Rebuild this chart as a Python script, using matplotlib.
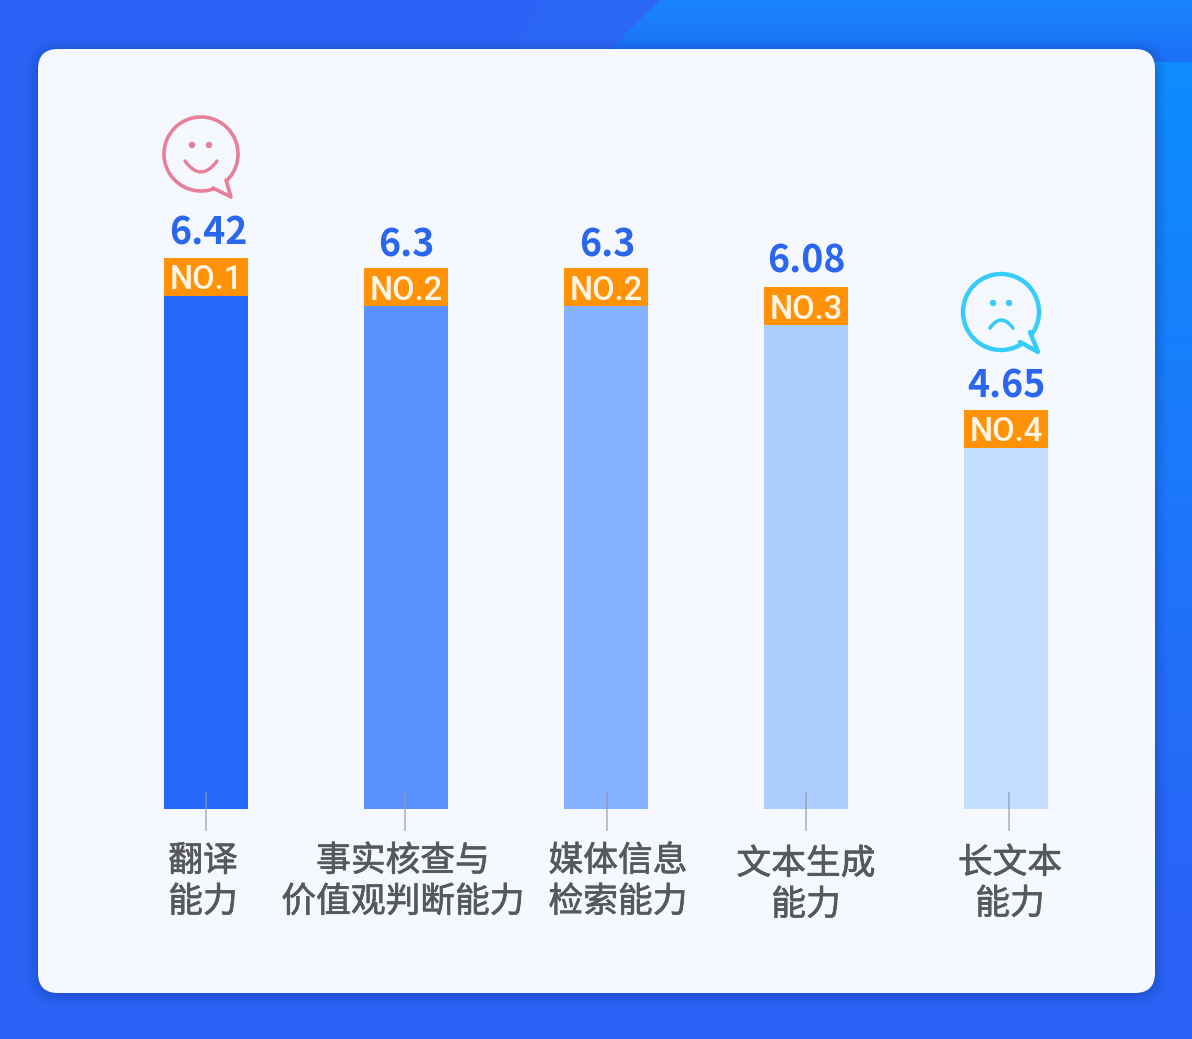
import numpy as np
import matplotlib
matplotlib.use("Agg")
import matplotlib.pyplot as plt
import matplotlib.patheffects as pe
from matplotlib.patches import FancyBboxPatch, Polygon, Circle, PathPatch
from matplotlib.path import Path

plt.rcParams['font.family'] = ['Noto Sans CJK SC', 'DejaVu Sans']

# 数据
categories = ['翻译\n能力', '事实核查与\n价值观判断能力', '媒体信息\n检索能力', '文本生成\n能力', '长文本\n能力']
values = [6.42, 6.3, 6.3, 6.08, 4.65]
ranks = ['NO.1', 'NO.2', 'NO.2', 'NO.3', 'NO.4']
bar_colors = ['#2666f8', '#5b90ff', '#86b3ff', '#aecdff', '#c3deff']

W, H = 1192, 1039
PX_PER_UNIT = 85.85
BASE_Y = 809
FIRST_X, STEP_X = 206, 200
BADGE_H = 38 / PX_PER_UNIT

# 标签位置（像素）
label_x = [203, 403, 618, 806, 1010]
label_y = [882, 882, 882, 885, 884]
tick_x = [206, 405, 607, 806, 1009]
value_dx = [2, 0, 1, 0, 0]
value_dy = [29, 27, 27, 30, 28]

px_pt = 72 / 100


def px_axes(fig, zorder):
    a = fig.add_axes([0, 0, 1, 1], zorder=zorder)
    a.set_xlim(0, W)
    a.set_ylim(H, 0)
    a.axis('off')
    a.patch.set_alpha(0)
    return a


def bubble(a, cx, cy, r, j1, j2, tip, color, lw):
    # 气泡外框：圆弧加小尾巴
    a1 = np.arctan2(j1[1] - cy, j1[0] - cx)
    a2 = np.arctan2(j2[1] - cy, j2[0] - cx)
    t = np.linspace(a1, a2 - 2 * np.pi, 120)
    pts = np.column_stack([cx + r * np.cos(t), cy + r * np.sin(t)])
    pts = np.vstack([pts, j2, tip, j1])
    a.add_patch(Polygon(pts, closed=True, fill=False, edgecolor=color, lw=lw, joinstyle='round'))


def face(a, eyes, mouth, color, lw):
    for ex, ey in eyes:
        a.add_patch(Circle((ex, ey), 3.2, color=color, lw=0))
    p = Path([mouth[0], mouth[1], mouth[2]], [Path.MOVETO, Path.CURVE3, Path.CURVE3])
    a.add_patch(PathPatch(p, fill=False, edgecolor=color, lw=lw, capstyle='round'))


def vgrad(c1, c2):
    g = np.linspace(0, 1, 64).reshape(-1, 1, 1)
    a = np.array(matplotlib.colors.to_rgb(c1)).reshape(1, 1, 3)
    b = np.array(matplotlib.colors.to_rgb(c2)).reshape(1, 1, 3)
    return a * (1 - g) + b * g


fig = plt.figure(figsize=(W / 100, H / 100), dpi=100)

# 背景
bg = px_axes(fig, 0)
bg.add_patch(Polygon([[0, 0], [W, 0], [W, H], [0, H]], color='#2a63f6', lw=0))
bg.add_patch(Polygon([[515, 49], [545, 0], [660, 0], [610, 49]], color='#2c66f4', lw=0))
im = bg.imshow(vgrad('#1a84fd', '#1b6ff5'), extent=(560, W, 62, 0), aspect='auto', zorder=1)
im.set_clip_path(Polygon([[597, 62], [660, 0], [W, 0], [W, 62]], transform=bg.transData))
bg.imshow(vgrad('#0e8cff', '#2a63f6'), extent=(1150, W, 930, 62), aspect='auto', zorder=1)
bg.set_xlim(0, W)
bg.set_ylim(H, 0)

# 卡片阴影和卡片
for grow, alpha in zip([14, 11, 8, 5, 3], [0.04, 0.05, 0.06, 0.07, 0.08]):
    bg.add_patch(FancyBboxPatch((38 + 20 - grow + 2, 49 + 20 - grow + 4), 1117 - 40 + 2 * grow - 4, 944 - 40 + 2 * grow - 4,
                                boxstyle='round,pad=20,rounding_size=%d' % (20 + grow),
                                fc='#10308a', ec='none', alpha=alpha, zorder=2))
bg.add_patch(FancyBboxPatch((58, 69), 1077, 904, boxstyle='round,pad=20,rounding_size=20',
                            fc='#f5f9ff', ec='none', zorder=3))

# 柱子
ax = fig.add_axes([0, 0, 1, 1], zorder=1)
ax.patch.set_alpha(0)
ax.axis('off')
ax.set_xlim(-FIRST_X / STEP_X, (W - FIRST_X) / STEP_X)
ax.set_ylim(-(H - BASE_Y) / PX_PER_UNIT, BASE_Y / PX_PER_UNIT)
x = np.arange(len(values))
v = np.array(values)
ax.bar(x, v, width=84 / STEP_X, color=bar_colors, lw=0)
ax.bar(x, [BADGE_H] * len(v), bottom=v - BADGE_H, width=84 / STEP_X, color='#ff9207', lw=0)

for i in x:
    ax.annotate(ranks[i], (i, values[i] - BADGE_H / 2), ha='center', va='center_baseline',
                color='#fff6e8', fontsize=23.5, fontweight='medium', family=['Roboto', 'DejaVu Sans'])
    ax.annotate(str(values[i]), (i, values[i]), xytext=(value_dx[i] * px_pt, value_dy[i] * px_pt), textcoords='offset points',
                ha='center', va='center_baseline', color='#2a66ee', fontsize=27, fontweight='bold')

# 上层：刻度线、类别文字、表情
top = px_axes(fig, 2)
for i, c in enumerate(categories):
    top.plot([tick_x[i], tick_x[i]], [793, 830], color='#8f98a8', lw=1.2, alpha=0.7)
    top.text(label_x[i], label_y[i], c, ha='center', va='center', fontsize=25, color='#565859', linespacing=1.22,
             path_effects=[pe.withStroke(linewidth=0.5, foreground='#565859')])

pink = '#e87f98'
bubble(top, 201, 154, 37, (226, 180), (213, 188), (231, 197), pink, 2.6)
face(top, [(192, 145), (209, 145)], [(185, 161), (201, 183), (217, 161)], pink, 2.4)
cyan = '#38cdf8'
bubble(top, 1001, 312, 38, (1030, 332), (1020, 342), (1038, 352), cyan, 3.2)
face(top, [(993, 303), (1009, 303)], [(990, 328), (1001, 312), (1013, 328)], cyan, 2.6)

fig.savefig('out.png', dpi=100)
